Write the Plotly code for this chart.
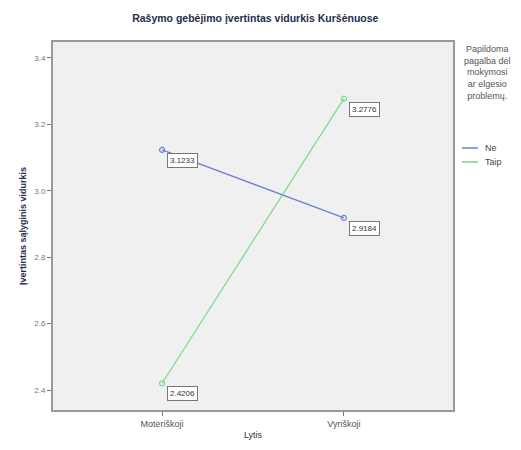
import plotly.graph_objects as go

categories = ["Moteriškoji", "Vyriškoji"]
series_names = ["Ne", "Taip"]
ne_values = [3.1233, 2.9184]
taip_values = [2.4206, 3.2776]
y_ticks = [2.4, 2.6, 2.8, 3.0, 3.2, 3.4]
y_ticklabels = ["2.4", "2.6", "2.8", "3.0", "3.2", "3.4"]
legend_title = "Papildoma<br>pagalba dėl<br>mokymosi<br>ar elgesio<br>problemų."
colors = ["#6b7fd2", "#79d98a"]

fig = go.Figure()
for name, vals, col in zip(series_names, [ne_values, taip_values], colors):
    fig.add_trace(go.Scatter(
        x=categories, y=vals, name=name, mode="lines+markers", showlegend=False,
        line=dict(color=col, width=1.2),
        marker=dict(symbol="circle-open", size=5, color=col, line=dict(width=1.2)),
    ))
    for c, v in zip(categories, vals):
        fig.add_annotation(
            x=c, y=v, xref="x", yref="y", text=f"{v:.4f}", showarrow=False,
            xanchor="left", yanchor="top", xshift=5, yshift=-3,
            font=dict(family="Liberation Sans", size=8, color="#333333"),
            bordercolor="#777777", borderwidth=1, borderpad=2, bgcolor="#ffffff",
        )

# legend title
fig.add_annotation(
    x=1.085, y=1.0, xref="paper", yref="paper", text=legend_title,
    showarrow=False, xanchor="center", yanchor="top", align="center",
    font=dict(family="Liberation Sans", size=9, color="#555555"),
)
# legend entries
for i, (name, col) in enumerate(zip(series_names, colors)):
    ly = 0.712 - i * 0.038
    fig.add_shape(type="line", xref="paper", yref="paper",
                  x0=1.0225, x1=1.0625, y0=ly, y1=ly,
                  line=dict(color=col, width=1.5))
    fig.add_annotation(x=1.075, y=ly, xref="paper", yref="paper", text=name,
                       showarrow=False, xanchor="left", yanchor="middle",
                       font=dict(family="Liberation Sans", size=9, color="#444444"))

fig.update_layout(
    width=521, height=450,
    margin=dict(l=53, r=68, t=42, b=40),
    paper_bgcolor="white", plot_bgcolor="#f0f0f0",
    font=dict(family="Liberation Sans", size=9, color="#555555"),
    title=dict(text="<b>Rašymo gebėjimo įvertintas vidurkis Kuršėnuose</b>",
               x=0.49, xanchor="center", y=0.96, yanchor="middle",
               font=dict(family="Liberation Sans", size=10.5, color="#1f2d4d")),
    showlegend=False,
    xaxis=dict(
        range=[-0.6, 1.6], showgrid=False, zeroline=False,
        showline=True, linecolor="#999999", linewidth=2, mirror=True,
        ticks="outside", ticklen=4, tickcolor="#777777",
        tickfont=dict(size=9, color="#555555"),
        title=dict(text="Lytis", font=dict(size=9, color="#333333"), standoff=4),
    ),
    yaxis=dict(
        range=[2.34, 3.448], showgrid=False, zeroline=False,
        tickvals=y_ticks, ticktext=y_ticklabels,
        showline=True, linecolor="#999999", linewidth=2, mirror=True,
        ticks="outside", ticklen=4, tickcolor="#777777",
        tickfont=dict(size=8, color="#777777"),
        title=dict(text="<b>Įvertintas sąlyginis vidurkis</b>",
                   font=dict(size=9, color="#1f2d4d"), standoff=6),
    ),
)

fig.write_html("out.html", config={"displayModeBar": False},
               post_script="document.body.style.margin='0px';")
